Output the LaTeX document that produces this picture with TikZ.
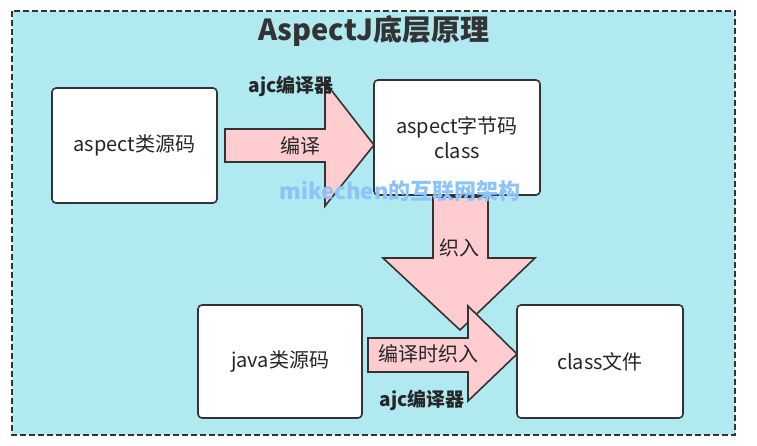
\documentclass[tikz,border=0pt]{standalone}
\usepackage{fontspec}
\setmainfont{Noto Sans CJK SC}
\begin{document}
\begin{tikzpicture}[x=1pt,y=-1pt,
  box/.style={draw=black!80,line width=1.6pt,rounded corners=4pt,fill=white},
  arr/.style={draw=black!80,line width=1.6pt,fill=arrpink,line join=miter},
  lbl/.style={font=\fontsize{20}{25}\selectfont,text=black!85}]
\definecolor{bgc}{RGB}{176,233,240}
\definecolor{arrpink}{RGB}{255,204,208}
\useasboundingbox (0,0) rectangle (757,445);
\draw[dashed,line width=1.4pt,draw=black!80,fill=bgc,dash pattern=on 6pt off 3pt] (12,11) rectangle (735,435);
\node[font=\bfseries\fontsize{29}{34}\selectfont,text=black!80] (title) at (374,31) {AspectJ底层原理};
% arrows
\draw[arr] (225,129) -- (325,129) -- (325,82) -- (374,145) -- (325,206) -- (325,162) -- (225,162) -- cycle;
\draw[arr] (433,197) -- (488,197) -- (488,258) -- (535,258) -- (460,330) -- (383,258) -- (433,258) -- cycle;
\draw[arr] (368,338) -- (468,338) -- (468,306) -- (517,354) -- (468,401) -- (468,372) -- (368,372) -- cycle;
\node[box,minimum width=165pt,minimum height=115pt] (src) at (134.5,145.5) {};
\node[lbl] at (src) {aspect类源码};
\node[box,minimum width=166pt,minimum height=115pt] (bc) at (457,137.5) {};
\node[lbl,align=center] at (bc) {aspect字节码\\class};
\node[box,minimum width=164pt,minimum height=113pt] (js) at (280,361.5) {};
\node[lbl] at (js) {java类源码};
\node[box,minimum width=166pt,minimum height=113pt] (cf) at (600,361.5) {};
\node[lbl] at (cf) {class文件};
\node[lbl] (l1) at (300,146) {编译};
\node[font=\bfseries\fontsize{19}{23}\selectfont,text=black!85] (a1) at (291,86) {ajc编译器};
\node[lbl] (l2) at (459,248) {织入};
\node[lbl] (l3) at (428,354) {编译时织入};
\node[font=\bfseries\fontsize{19}{23}\selectfont,text=black!85] (a2) at (422,400) {ajc编译器};
\node[font=\bfseries\fontsize{22}{26}\selectfont,text={rgb,255:red,140;green,195;blue,250}] (wm) at (400,191) {mikechen的互联网架构};
\end{tikzpicture}
\end{document}
